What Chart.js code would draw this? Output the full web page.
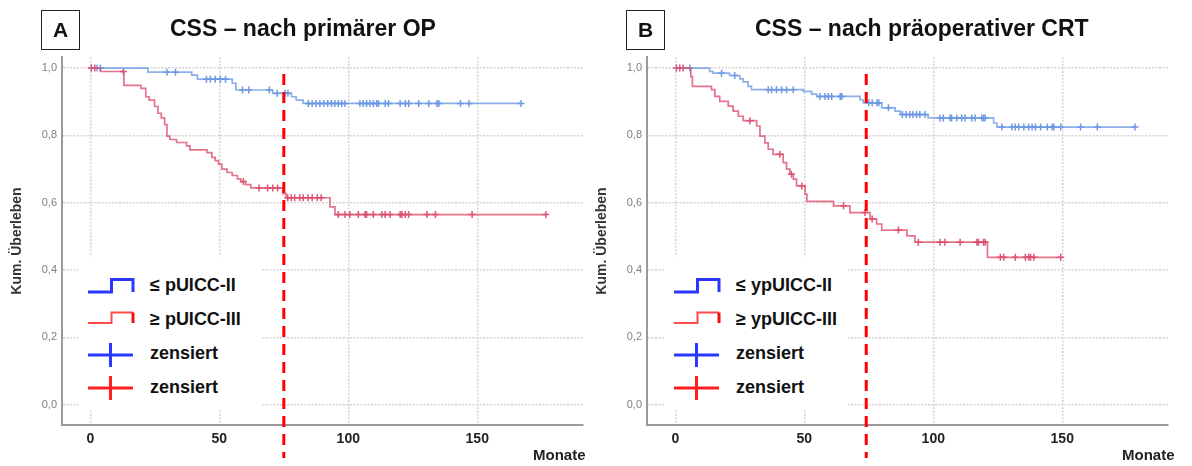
<!DOCTYPE html>
<html>
<head>
<meta charset="utf-8">
<script src="https://cdn.jsdelivr.net/npm/chart.js@4.4.0/dist/chart.umd.min.js"></script>
<style>
  body { margin: 0; width: 1192px; height: 466px; position: relative; overflow: hidden; background: #fff;
         font-family: "Liberation Sans", Arial, sans-serif; }
  canvas { position: absolute; top: 0; }
  .box { position: absolute; top: 10px; width: 37px; height: 38px; border: 1.5px solid #222;
         font: bold 21px "Liberation Sans", Arial, sans-serif; line-height: 38px; text-align: center; color: #111; }
  .title { position: absolute; top: 15px; font: bold 23px "Liberation Sans", Arial, sans-serif; color: #111; white-space: nowrap; }
  .monate { position: absolute; top: 446px; font: bold 15px "Liberation Sans", Arial, sans-serif; color: #222; }
  .legend { position: absolute; top: 257px; width: 184px; height: 152px; background: #fff; }
  .legend svg { position: absolute; left: 0; top: 0; }
  .legend span { position: absolute; left: 72px; font: bold 18px "Liberation Sans", Arial, sans-serif; color: #111;
                 line-height: 20px; white-space: nowrap; }
</style>
</head>
<body>
<canvas id="chartA" width="596" height="466" style="left:0"></canvas>
<canvas id="chartB" width="596" height="466" style="left:585px"></canvas>

<div class="box" style="left:41px">A</div>
<div class="title" style="left:170px">CSS – nach primärer OP</div>
<div class="box" style="left:626px">B</div>
<div class="title" style="left:755px">CSS – nach präoperativer CRT</div>
<div class="monate" style="left:533px">Monate</div>
<div class="monate" style="left:1122px">Monate</div>

<div class="legend" id="legendA" style="left:78px"></div>
<div class="legend" id="legendB" style="left:664px"></div>

<script>
// Achsen
const xTicks = [0, 50, 100, 150];
const yTicks = [0, 0.2, 0.4, 0.6, 0.8, 1.0];

// A: nach primaerer OP, <= pUICC-II
const aLowTime = [0, 22.3, 39.3, 41.5, 55, 56.4, 70.7, 78, 79.8, 82.5, 167];
const aLowSurv = [1, 0.988, 0.979, 0.967, 0.955, 0.935, 0.925, 0.915, 0.905, 0.895, 0.895];
const aLowCens = [2.6, 3.9, 29.7, 33, 45, 46.5, 48.4, 50.4, 52.4, 59, 61.4, 69.4, 72.4, 75.5, 76.6,
  84.5, 86, 87.5, 89, 90.5, 92, 93.5, 94.8, 96.1, 97.4, 98.7, 104.5, 105.8, 107.1, 108.4, 109.7, 111,
  111.7, 114.3, 115.6, 120.1, 122.1, 123.4, 127.3, 131.2, 134.4, 135.1, 143.5, 146.8, 167];
// A: >= pUICC-III
const aHighTime = [0, 3.9, 13, 19.6, 21.5, 22.8, 24.9, 26.2, 27.5, 28.8, 29.7, 30.8, 33.4, 37.3, 38.6,
  45.2, 47.1, 48.4, 49.7, 51, 53, 55, 57, 58.3, 60.2, 62.2, 74.6, 75.9, 92.9, 94.8, 176.6];
const aHighSurv = [1, 0.99, 0.949, 0.94, 0.915, 0.905, 0.886, 0.866, 0.852, 0.832, 0.798, 0.788, 0.779,
  0.769, 0.757, 0.749, 0.735, 0.725, 0.715, 0.70, 0.69, 0.681, 0.671, 0.663, 0.654, 0.644, 0.627, 0.615,
  0.588, 0.565, 0.565];
const aHighCens = [0.4, 1.7, 12.8, 59.3, 65.4, 68.7, 70.7, 72.6, 76.5, 77.9, 79.2, 81.2, 82.5, 84.4, 86,
  88, 89.5, 96.1, 98.7, 100.6, 103.9, 106.5, 107.1, 109.7, 113, 114.3, 116.2, 120.1, 120.8, 122.1, 123.4,
  130.5, 133.8, 148, 176.6];
const aCutoff = 75;

// B: nach praeoperativer CRT, <= ypUICC-II
const bLowTime = [0, 13.3, 14.6, 21, 25, 26.3, 28.2, 29.5, 49.6, 52.8, 54.8, 71.6, 72.9, 80, 85.2, 87.2,
  98, 123.4, 124.7, 178.2];
const bLowSurv = [1, 0.99, 0.985, 0.978, 0.968, 0.959, 0.946, 0.936, 0.931, 0.923, 0.916, 0.906, 0.897,
  0.882, 0.872, 0.862, 0.852, 0.837, 0.825, 0.825];
const bLowCens = [5.6, 17.9, 23, 36, 37.3, 39.2, 41.2, 43.1, 45.7, 56, 58, 59.3, 60.6, 63.9, 64.5, 75,
  76.3, 78.2, 78.9, 82.6, 88, 89.5, 90.9, 92.1, 93.5, 94.8, 96.8, 102.6, 103.9, 106.5, 107.1, 109.1, 111,
  112.3, 114.9, 116.2, 118.8, 119.5, 120.1, 126.6, 130.5, 131.8, 133.1, 135.1, 137, 138.3, 139.6, 141.6,
  144.2, 146.1, 146.8, 149.4, 157.1, 163.6, 178.2];
// B: >= ypUICC-III
const bHighTime = [0, 6, 6.6, 14, 15.3, 17.2, 20.5, 22.4, 24.4, 26.3, 31.5, 32.8, 34.7, 36, 37.9, 41.8,
  43.1, 44.4, 45.7, 47, 50.3, 51, 61.3, 67.7, 75.5, 78, 80, 89.8, 92.9, 121, 149.4];
const bHighSurv = [1, 0.975, 0.946, 0.936, 0.916, 0.901, 0.887, 0.872, 0.857, 0.844, 0.828, 0.798, 0.778,
  0.759, 0.744, 0.719, 0.70, 0.685, 0.67, 0.65, 0.626, 0.604, 0.591, 0.571, 0.552, 0.537, 0.519, 0.502,
  0.483, 0.438, 0.438];
const bHighCens = [0.4, 1.7, 3, 28.9, 40.5, 45, 49, 65.2, 73.5, 76.3, 86.5, 94.2, 102.6, 104.5, 110.4,
  116.9, 117.5, 119.5, 120.1, 126, 127.3, 131.8, 135.7, 137, 137.7, 139, 149.4];
const bCutoff = 74;

const legendA = ['≤ pUICC-II', '≥ pUICC-III', 'zensiert', 'zensiert'];
const legendB = ['≤ ypUICC-II', '≥ ypUICC-III', 'zensiert', 'zensiert'];

function curve(times, surv) {
  return times.map((t, i) => ({ x: t, y: surv[i] }));
}
// Zensur-Marke sitzt auf der Kurve
function censored(cens, times, surv) {
  return cens.map(c => {
    let y = surv[0];
    for (let i = 0; i < times.length; i++) if (times[i] <= c) y = surv[i];
    return { x: c, y: y };
  });
}

function makeChart(id, low, high, cutoff) {
  const cutLine = {
    id: 'cutLine',
    afterDatasetsDraw(chart) {
      const ctx = chart.ctx;
      const x = chart.scales.x.getPixelForValue(cutoff);
      ctx.save();
      ctx.strokeStyle = '#ff0000';
      ctx.lineWidth = 3;
      ctx.setLineDash([11, 7]);
      ctx.beginPath();
      ctx.moveTo(x, 74);
      ctx.lineTo(x, 458);
      ctx.stroke();
      ctx.restore();
    }
  };
  return new Chart(document.getElementById(id).getContext('2d'), {
    type: 'scatter',
    data: {
      datasets: [{
        data: curve(high[0], high[1]),
        showLine: true, stepped: true,
        borderColor: 'rgba(222,80,110,0.8)', borderWidth: 1.7, pointRadius: 0
      }, {
        data: curve(low[0], low[1]),
        showLine: true, stepped: true,
        borderColor: 'rgba(110,155,228,0.8)', borderWidth: 1.7, pointRadius: 0
      }, {
        data: censored(high[2], high[0], high[1]),
        pointStyle: 'cross', pointRadius: 3.5, borderWidth: 1.5,
        borderColor: 'rgba(214,55,95,0.85)'
      }, {
        data: censored(low[2], low[0], low[1]),
        pointStyle: 'cross', pointRadius: 3.5, borderWidth: 1.5,
        borderColor: 'rgba(85,135,220,0.85)'
      }]
    },
    options: {
      responsive: false,
      animation: false,
      layout: { padding: { top: 57, right: 13, left: 0, bottom: 0 } },
      plugins: { legend: { display: false }, tooltip: { enabled: false } },
      scales: {
        x: {
          type: 'linear', min: -11, max: 191,
          afterBuildTicks: s => { s.ticks = xTicks.map(v => ({ value: v })); },
          afterFit: s => { s.height = 41; },
          ticks: { color: '#222', font: { family: 'Liberation Sans', size: 14, weight: 'bold' }, padding: 6 },
          grid: { color: '#d4d4d4', lineWidth: 1.5, drawTicks: false },
          border: { color: '#9a9a9a', width: 2, dash: [2, 1.5] }
        },
        y: {
          min: -0.06, max: 1.033,
          afterBuildTicks: s => { s.ticks = yTicks.map(v => ({ value: v })); },
          afterFit: s => { s.width = 62; },
          ticks: {
            color: '#808080', font: { family: 'Liberation Sans', size: 11 }, padding: 5,
            callback: v => v.toFixed(1).replace('.', ',')
          },
          title: {
            display: true, text: 'Kum. Überleben', color: '#333',
            font: { family: 'Liberation Sans', size: 14, weight: 'bold' }, padding: { top: 9, bottom: 0 }
          },
          grid: { color: '#d4d4d4', lineWidth: 1.5, drawTicks: false },
          border: { color: '#9a9a9a', width: 2, dash: [2, 1.5] }
        }
      }
    },
    plugins: [cutLine]
  });
}

function makeLegend(id, labels) {
  const el = document.getElementById(id);
  el.innerHTML =
    '<svg width="184" height="152">' +
    '<polyline points="10,35 33.5,35 33.5,22.5 55,22.5 55,35" fill="none" stroke="#2a38ff" stroke-width="3"/>' +
    '<polyline points="10,66 33.5,66 33.5,55.5 55,55.5" fill="none" stroke="#ff4a4a" stroke-width="2"/>' +
    '<line x1="55" y1="55.5" x2="55" y2="66" stroke="#ee1111" stroke-width="3"/>' +
    '<line x1="10" y1="98" x2="55" y2="98" stroke="#2a38ff" stroke-width="3"/>' +
    '<line x1="32.5" y1="86" x2="32.5" y2="110" stroke="#2a38ff" stroke-width="3"/>' +
    '<line x1="10" y1="131" x2="55" y2="131" stroke="#ff1f1f" stroke-width="3"/>' +
    '<line x1="32.5" y1="119" x2="32.5" y2="143" stroke="#ff1f1f" stroke-width="3"/>' +
    '</svg>';
  const rows = [28, 61.5, 96, 130];
  labels.forEach((t, i) => {
    const s = document.createElement('span');
    s.textContent = t;
    s.style.top = (rows[i] - 10) + 'px';
    el.appendChild(s);
  });
}

makeChart('chartA', [aLowTime, aLowSurv, aLowCens], [aHighTime, aHighSurv, aHighCens], aCutoff);
makeChart('chartB', [bLowTime, bLowSurv, bLowCens], [bHighTime, bHighSurv, bHighCens], bCutoff);
makeLegend('legendA', legendA);
makeLegend('legendB', legendB);
</script>
</body>
</html>
